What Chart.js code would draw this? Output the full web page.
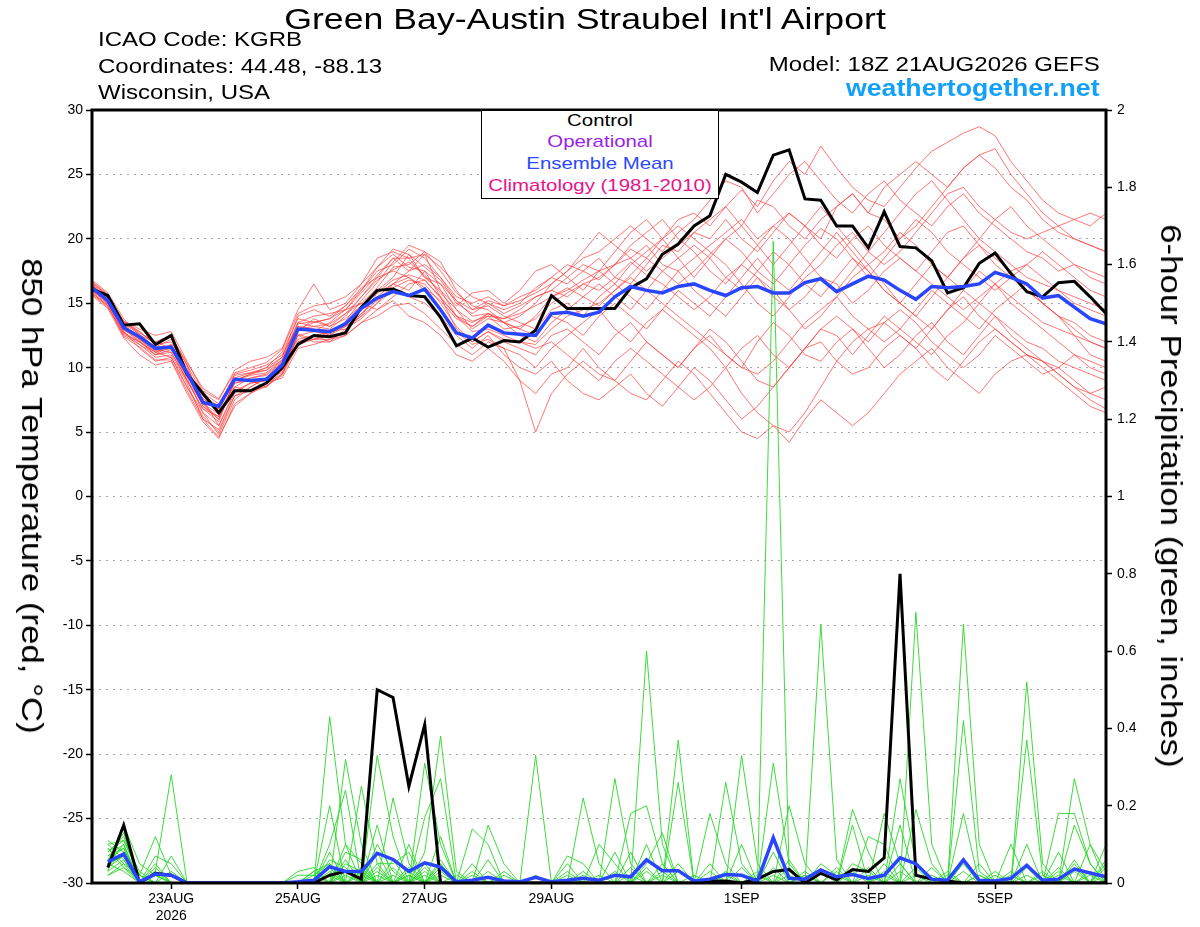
<!DOCTYPE html>
<html>
<head>
<meta charset="utf-8">
<title>Green Bay-Austin Straubel Int'l Airport - GEFS 850 hPa Temperature / 6-hour Precipitation</title>
<script src="https://cdn.jsdelivr.net/npm/chart.js@4.4.0/dist/chart.umd.min.js"></script>
<style>
  html, body { margin: 0; padding: 0; background: #fff; }
  body {
    width: 1200px; height: 927px; position: relative; overflow: hidden;
    font-family: "Liberation Sans", Arial, Helvetica, sans-serif; color: #000;
  }
  #chart { position: absolute; left: 0; top: 0; }
  .lbl { position: absolute; white-space: nowrap; line-height: 1; }
  .left { transform-origin: left center; transform: scaleX(1.2); }
  .right { transform-origin: right center; transform: scaleX(1.2); }
  .mid { transform: translateX(-50%) scaleX(1.2); }
  #legend {
    position: absolute; left: 481px; top: 110px; width: 238px; height: 89px;
    box-sizing: border-box; border: 1.5px solid #000; background: #fff;
  }
  .axis-title { font-size: 30px; transform: translate(-50%, -50%) rotate(90deg) scaleX(1.16); }
</style>
</head>
<body>
<canvas id="chart" width="1200" height="927"></canvas>

<div class="lbl mid" style="left:585px; top:4.5px; font-size:29px; transform:translateX(-50%) scaleX(1.23);">Green Bay-Austin Straubel Int'l Airport</div>
<div class="lbl left" style="left:98px; top:29px; font-size:20px;">ICAO Code: KGRB</div>
<div class="lbl left" style="left:98px; top:55.8px; font-size:20px;">Coordinates: 44.48, -88.13</div>
<div class="lbl left" style="left:98px; top:82.4px; font-size:20px;">Wisconsin, USA</div>
<div class="lbl right" style="right:100px; top:54px; font-size:20px;">Model: 18Z 21AUG2026 GEFS</div>
<div class="lbl right" style="right:100px; top:77.2px; font-size:23px; font-weight:bold; color:#12a0f8; transform:scaleX(1.16);">weathertogether.net</div>

<div id="legend"></div>
<div class="lbl mid" style="left:600px; top:111.5px; font-size:17px; color:#000;">Control</div>
<div class="lbl mid" style="left:600px; top:133.2px; font-size:17px; color:#9b1fe6;">Operational</div>
<div class="lbl mid" style="left:600px; top:155px; font-size:17px; color:#2c48ff;">Ensemble Mean</div>
<div class="lbl mid" style="left:600px; top:176.8px; font-size:17px; color:#ea128a;">Climatology (1981-2010)</div>

<div class="lbl axis-title" style="left:32px; top:496px;">850 hPa Temperature (red, °C)</div>
<div class="lbl axis-title" style="left:1171px; top:496px;">6-hour Precipitation (green, inches)</div>

<script>
// forecast hours from 18Z 21AUG2026
const forecastHours = [0,6,12,18,24,30,36,42,48,54,60,66,72,78,84,90,96,102,108,114,120,126,132,138,144,150,
  156,162,168,174,180,186,192,198,204,210,216,222,228,234,240,246,252,258,264,270,276,282,288,294,300,306,
  312,318,324,330,336,342,348,354,360,366,372,378,384];

const dayTickHours = [30, 78, 126, 174, 246, 294, 342];
const dayTickLabels = [['23AUG', '2026'], '25AUG', '27AUG', '29AUG', '1SEP', '3SEP', '5SEP'];
const tempTicks = [-30, -25, -20, -15, -10, -5, 0, 5, 10, 15, 20, 25, 30];
const precipTicks = [0, 0.2, 0.4, 0.6, 0.8, 1, 1.2, 1.4, 1.6, 1.8, 2];
const precipTickLabels = ['0', '0.2', '0.4', '0.6', '0.8', '1', '1.2', '1.4', '1.6', '1.8', '2'];

// 850 hPa temperature (C)
const ctrlTemp = [16.1,15.6,13.3,13.4,11.8,12.5,9.5,8.0,6.5,8.2,8.2,8.8,10.0,
  11.8,12.5,12.4,12.7,14.7,16.0,16.1,15.6,15.5,13.9,11.7,12.3,11.6,
  12.1,12.0,12.9,15.6,14.6,14.6,14.6,14.6,16.2,16.9,18.8,19.6,21.0,
  21.8,25.0,24.4,23.6,26.5,26.9,23.1,23.0,21.0,21.0,19.3,22.1,19.4,
  19.3,18.3,15.8,16.2,18.1,18.9,17.3,15.9,15.5,16.6,16.7,15.5,14.2];
const meanTemp = [16.2,15.2,13.1,12.4,11.5,11.6,9.6,7.3,7.0,9.1,9.0,9.1,10.2,
  13.0,12.9,12.8,13.4,14.6,15.4,15.9,15.6,16.1,14.5,12.7,12.3,13.3,
  12.7,12.6,12.5,14.2,14.3,14.0,14.3,15.5,16.3,16.0,15.8,16.3,16.5,
  16.0,15.6,16.2,16.3,15.8,15.8,16.6,16.9,15.9,16.5,17.1,16.8,16.0,
  15.3,16.3,16.2,16.3,16.5,17.4,17.0,16.5,15.4,15.6,14.7,13.8,13.4];

const tm01 = [16.5,15.0,13.0,12.0,11.0,11.8,9.5,7.0,6.2,8.5,9.2,9.5,10.5,
  13.5,13.2,13.0,14.0,15.5,17.0,18.5,17.5,18.8,16.0,14.0,13.5,14.2,
  13.5,13.0,14.0,15.5,16.0,16.8,17.5,18.0,19.2,18.5,20.0,21.5,22.0,
  21.0,22.5,23.8,22.5,24.5,26.0,25.0,27.2,25.5,24.0,23.0,22.5,24.0,
  25.5,26.8,27.5,28.2,28.7,28.0,26.0,24.5,23.0,22.0,21.5,21.0,22.0];
const tm02 = [16.0,15.5,13.5,12.8,11.8,12.0,10.0,7.5,5.5,8.0,8.8,9.0,9.8,
  12.5,12.8,13.5,14.5,15.0,14.5,15.2,14.0,13.5,12.5,11.0,10.5,11.5,
  10.5,9.0,8.0,9.5,10.0,11.5,10.0,9.0,8.0,7.5,9.0,10.5,9.5,
  8.0,6.5,5.0,4.5,5.5,4.2,6.0,7.5,6.5,5.5,6.5,8.0,9.5,
  10.5,11.5,10.0,9.0,8.0,9.5,10.5,11.0,10.5,9.5,8.5,7.5,6.8];
const tm03 = [16.8,15.8,13.8,12.5,12.0,11.5,9.0,6.8,5.8,9.0,9.5,10.0,10.8,
  14.0,14.5,14.0,14.8,16.0,17.5,18.0,19.2,18.5,17.0,15.5,15.0,15.5,
  14.8,15.5,16.0,17.0,16.5,17.5,18.5,17.0,16.5,18.0,19.5,19.0,20.5,
  20.0,21.5,20.0,19.0,20.5,22.0,21.0,20.0,22.5,23.5,22.0,21.5,20.0,
  21.0,22.5,24.0,25.5,26.5,27.0,25.0,23.5,22.0,21.0,20.0,19.5,19.0];
const tm04 = [15.8,14.8,12.5,11.8,10.8,11.0,8.8,6.0,5.2,7.8,8.2,8.5,9.5,
  12.0,12.5,12.0,13.0,14.0,15.8,16.5,16.0,17.5,15.5,13.0,12.0,12.8,
  12.0,11.5,11.0,12.5,13.0,12.0,11.0,12.5,13.5,12.0,11.0,10.0,11.5,
  12.5,11.0,10.0,12.0,13.5,12.5,11.0,10.5,12.0,13.0,11.5,10.0,11.0,
  12.5,13.5,12.0,11.0,12.5,14.0,13.0,12.0,11.5,10.5,10.0,9.5,9.0];
const tm05 = [16.2,15.2,13.2,12.2,11.2,11.8,9.8,7.8,7.0,9.5,9.8,10.2,11.0,
  13.2,13.0,12.5,13.5,14.8,16.0,17.0,18.8,17.0,16.5,14.5,13.0,13.8,
  13.5,14.0,15.0,16.5,17.5,18.5,19.0,20.0,21.0,20.0,19.0,20.5,21.5,
  23.0,24.5,24.0,22.0,23.5,25.0,26.0,24.5,23.0,22.0,23.5,24.5,23.0,
  22.0,21.0,22.5,23.5,22.0,21.0,20.0,19.0,18.5,17.5,18.0,17.0,16.5];
const tm06 = [16.4,15.3,12.8,11.5,10.5,10.8,8.5,6.5,4.8,7.5,8.5,9.2,10.0,
  12.8,13.8,13.2,14.2,15.0,16.2,17.8,18.0,19.0,18.2,16.0,14.5,14.8,
  14.0,13.5,13.0,14.5,15.0,14.0,15.5,16.5,15.5,14.5,16.0,17.5,16.0,
  15.0,14.0,15.5,17.0,16.0,14.5,13.0,14.0,15.5,17.0,18.0,16.5,15.0,
  14.0,15.5,17.0,18.5,19.5,18.0,17.0,16.0,15.0,14.0,13.5,12.5,12.0];
const tm07 = [15.6,14.6,12.3,11.0,10.2,10.5,8.0,5.8,4.5,7.2,8.0,8.8,9.2,
  11.5,11.8,12.2,12.5,13.5,14.0,14.8,15.0,14.2,13.0,11.8,11.0,12.0,
  11.5,9.0,5.0,8.0,9.5,10.5,9.5,9.0,10.5,12.0,11.0,10.0,11.5,
  13.0,12.0,10.5,9.0,8.5,10.0,11.5,13.0,12.5,11.0,12.5,14.0,13.0,
  12.0,11.0,12.5,13.5,15.0,14.0,12.5,11.5,10.5,10.0,9.0,8.0,7.5];
const tm08 = [16.6,15.6,13.6,13.0,12.5,12.8,10.5,8.2,7.5,9.8,10.5,10.8,11.5,
  14.5,16.5,14.5,15.0,16.5,18.5,19.0,18.5,17.0,16.0,14.8,15.8,16.0,
  15.0,16.0,17.5,18.0,17.0,16.0,17.5,19.0,20.5,21.5,20.0,18.5,17.0,
  18.5,20.0,21.0,19.5,18.0,19.5,21.0,22.5,21.0,19.5,18.0,19.0,20.5,
  19.5,18.0,17.0,18.5,20.0,21.5,22.5,21.0,20.0,19.0,18.0,17.5,17.0];
const tm09 = [16.0,15.0,12.6,12.0,11.2,11.5,9.2,6.5,5.5,8.2,8.8,9.0,10.2,
  12.2,12.5,12.8,13.0,13.8,15.0,16.0,15.5,15.0,14.0,12.5,11.5,12.5,
  11.0,10.0,9.5,10.5,9.0,8.0,7.5,8.5,9.5,8.0,7.0,8.5,10.0,
  9.0,7.5,6.0,7.0,8.5,10.0,11.5,12.0,10.5,9.5,10.0,11.5,12.5,
  11.5,10.0,9.0,10.5,12.0,13.0,12.0,11.0,10.5,9.5,8.5,8.0,8.5];
const tm10 = [16.3,15.4,13.4,12.6,11.6,12.2,10.2,8.0,7.2,9.2,9.6,10.0,11.2,
  13.8,13.5,13.8,14.5,16.0,17.8,19.2,18.8,17.8,16.8,15.0,14.2,15.0,
  14.5,15.0,16.2,17.0,18.0,17.5,16.8,18.0,19.5,20.5,21.5,20.0,19.0,
  17.5,16.5,18.0,19.5,21.0,20.0,18.5,17.0,16.0,17.5,19.0,20.5,22.0,
  23.5,24.5,23.0,21.5,20.0,19.0,18.0,17.0,16.5,16.0,15.5,15.0,14.5];
const tm11 = [15.9,14.9,12.9,12.3,11.4,11.2,9.0,7.2,6.0,8.8,9.0,8.5,9.8,
  12.6,12.2,12.8,13.2,14.2,15.2,16.2,16.8,16.5,15.0,13.2,12.0,12.8,
  12.2,12.0,11.8,13.0,14.0,14.5,15.0,16.0,17.0,16.0,15.0,14.0,13.0,
  12.0,11.0,10.0,9.5,10.5,12.0,13.5,14.5,15.5,14.0,13.0,12.0,13.0,
  14.5,16.0,15.0,14.0,13.0,14.5,15.5,16.5,15.0,14.0,12.5,11.0,10.5];
const tm12 = [16.1,15.1,13.0,12.1,11.0,11.4,9.4,7.4,6.8,9.0,9.4,9.6,10.6,
  13.0,13.5,13.8,14.8,16.2,17.0,17.5,17.0,16.2,15.2,13.8,13.2,14.0,
  13.8,14.5,15.5,16.0,15.5,16.5,17.0,18.0,18.5,19.5,18.0,17.5,18.5,
  19.5,20.5,21.5,20.0,21.0,22.0,21.0,19.5,18.5,20.0,21.0,19.5,18.5,
  17.5,19.0,20.5,21.0,19.5,18.5,17.5,18.0,19.0,18.0,17.0,16.0,15.5];
const tm13 = [16.7,15.7,13.3,12.4,11.6,11.6,9.6,7.6,6.6,9.2,9.0,9.2,10.4,
  13.2,12.8,12.6,13.6,15.2,16.6,18.2,19.5,19.0,17.5,15.8,14.8,14.5,
  13.5,13.0,12.5,14.0,13.5,12.5,14.0,15.0,14.0,13.0,14.5,16.0,15.0,
  14.0,15.5,17.0,18.5,17.0,16.0,17.5,19.0,20.5,19.0,17.5,16.0,15.0,
  16.5,18.0,17.0,16.0,15.0,16.5,17.5,16.0,15.0,14.0,13.0,12.0,11.5];
const tm14 = [15.7,14.7,12.7,12.0,11.2,10.8,8.5,6.2,5.0,7.8,8.5,9.2,9.6,
  12.0,12.2,12.5,13.2,14.0,15.0,16.5,17.5,18.0,17.0,15.2,14.0,14.2,
  13.5,12.5,12.0,13.5,14.5,15.5,16.5,15.5,14.5,16.0,17.5,18.5,19.5,
  18.5,17.0,16.0,17.5,19.0,18.0,16.5,15.5,17.0,18.5,17.5,16.0,15.0,
  14.0,13.0,14.5,15.5,14.0,13.0,12.0,11.0,10.0,9.0,8.0,7.0,6.5];
const tm15 = [16.5,15.5,13.5,12.7,12.0,12.5,10.2,7.0,6.0,9.0,9.5,9.8,10.8,
  13.5,14.0,14.2,14.5,15.8,17.2,18.5,18.5,18.8,17.8,16.5,15.5,15.0,
  14.2,14.8,15.5,16.0,17.0,18.0,17.5,16.5,18.0,19.0,20.0,21.0,20.0,
  19.0,18.0,16.5,15.0,14.0,15.5,17.0,18.0,19.5,20.5,19.0,18.0,19.0,
  20.5,22.0,23.5,24.0,22.5,21.5,20.5,20.0,20.5,21.0,21.5,22.0,21.5];
const tm16 = [16.0,15.0,12.8,11.8,11.0,11.2,9.0,6.8,6.2,8.5,8.2,8.8,9.5,
  12.5,12.0,12.0,12.5,13.5,14.5,15.5,16.5,16.8,15.5,14.0,12.8,13.0,
  12.5,12.0,11.5,12.0,11.0,10.0,9.0,10.5,11.5,10.5,9.5,8.5,7.5,
  8.5,10.0,11.5,12.5,11.0,10.0,11.5,13.0,14.0,13.0,12.0,13.5,14.5,
  13.5,12.0,11.0,10.0,11.0,12.5,11.5,10.5,9.5,10.0,11.0,10.5,10.0];
const tm17 = [16.2,15.2,13.2,12.4,11.5,11.5,9.6,7.2,6.4,8.8,9.2,9.4,10.4,
  13.0,13.2,13.4,14.2,15.5,16.8,17.6,18.2,17.2,15.8,14.5,13.6,14.0,
  13.0,13.2,13.8,15.0,15.8,16.5,16.0,17.0,18.2,17.2,16.5,15.5,14.5,
  15.5,17.0,18.0,17.0,15.5,14.5,15.5,17.0,16.5,15.0,16.0,17.5,18.5,
  17.5,16.5,15.5,14.5,15.5,16.5,15.5,14.5,13.5,13.0,12.5,12.0,11.5];
const tm18 = [16.4,15.4,13.1,12.2,11.3,11.7,9.3,7.6,6.8,9.4,9.6,9.8,10.6,
  13.4,13.6,13.2,13.8,14.8,15.8,16.8,17.2,16.8,15.4,14.0,13.2,14.2,
  13.8,14.2,14.8,15.5,16.2,15.5,14.8,16.0,17.2,18.5,17.5,16.5,17.5,
  18.8,20.0,19.0,17.5,16.5,18.0,19.5,20.8,20.0,18.5,17.0,18.5,20.0,
  21.5,20.5,19.0,18.0,17.0,16.0,17.0,18.0,17.0,16.0,15.0,14.5,14.0];
const tm19 = [15.8,14.8,12.4,11.6,10.6,10.6,8.2,6.0,4.6,7.0,8.0,8.6,9.4,
  11.8,12.2,12.2,12.8,14.2,15.5,16.5,17.0,16.0,14.5,12.8,11.8,12.2,
  11.5,11.0,10.0,11.5,12.5,13.5,14.5,13.0,12.0,13.5,14.5,13.5,12.5,
  11.5,10.0,8.0,6.5,5.5,5.0,6.5,8.5,10.5,12.0,13.0,13.5,12.5,
  11.5,13.0,14.5,16.0,17.5,16.5,15.0,14.0,13.0,12.0,11.0,10.0,9.5];
const tm20 = [16.6,15.6,13.6,12.8,11.8,12.4,10.4,8.4,7.6,9.6,10.0,10.4,11.4,
  14.2,14.8,15.0,15.5,16.5,17.8,18.8,17.8,17.5,16.5,15.2,14.5,15.2,
  14.8,15.2,15.8,16.5,17.5,19.0,20.5,19.5,18.5,17.5,18.5,19.5,20.5,
  21.5,22.5,21.0,23.0,22.5,21.0,20.0,21.5,22.5,23.5,22.0,24.0,25.0,
  26.0,25.0,24.0,25.5,26.5,25.5,24.0,23.0,21.5,20.5,20.0,19.5,19.0];

// 6-hour precipitation (inches), no value at hour 0
const ctrlPrecip = [null,
  .04,.15,0,.025,.02,0,0,0,0,0,0,0,0,0,.02,.03,
  .01,.5,.48,.25,.41,0,0,0,0,0,0,0,0,0,0,0,
  0,0,0,0,0,0,.005,.005,0,.01,.03,.035,0,.025,.008,.035,
  .03,.065,.8,.02,.01,.005,0,0,0,0,0,0,0,0,0,0];
const meanPrecip = [null,
  .055,.075,.003,.023,.02,0,0,0,0,0,0,0,.003,.007,.042,.03,
  .03,.077,.061,.03,.052,.041,.003,.007,.015,.005,.003,.015,.003,.007,.012,.007,
  .02,.016,.06,.032,.032,.005,.01,.022,.02,.005,.117,.012,.01,.034,.016,.022,
  .012,.02,.065,.05,.01,.007,.06,.007,.005,.012,.046,.007,.01,.036,.026,.016];

const pm01 = [null,
  .08,.12,.02,.12,.02,0,0,0,0,0,0,0,0,0,.43,.1,
  0,0,0,0,0,.05,0,0,0,0,0,.33,0,0,0,0,
  0,0,.6,.1,0,0,0,0,0,0,1.66,.03,0,0,0,0,
  0,0,0,.7,.1,0,0,0,0,0,.1,0,0,.05,0,0];
const pm02 = [null,
  .05,.1,0,.03,.28,0,0,0,0,0,0,0,0,0,0,.32,
  .1,0,0,0,.08,.38,.03,0,0,0,0,0,0,0,0,0,
  .27,.05,0,0,0,0,0,0,0,0,0,0,0,.67,.06,0,
  0,0,0,0,0,0,.18,0,0,0,0,0,0,.27,.1,0];
const pm03 = [null,
  .1,.06,0,.07,.05,0,0,0,0,0,0,0,0,0,.2,0,
  0,.33,.12,0,0,0,0,0,.15,.05,0,0,0,0,0,0,
  0,0,0,0,.37,0,0,0,.1,0,0,0,0,0,0,.19,
  .08,0,0,0,0,0,.67,.1,0,0,0,0,0,0,0,.1];
const pm04 = [null,
  .03,.15,.05,.02,0,0,0,0,0,0,0,0,0,0,0,0,
  .25,.05,0,0,.31,.1,0,0,0,0,0,0,0,0,.22,.05,
  0,0,0,0,0,0,0,.26,.05,0,0,0,0,0,0,0,
  0,0,.27,.05,0,0,0,0,0,0,.52,.05,0,0,0,0];
const pm05 = [null,
  .11,.08,0,.04,0,0,0,0,0,0,0,0,0,0,.1,.24,
  0,0,.22,.05,0,0,0,.14,.1,0,0,0,0,0,0,0,
  0,.18,.2,.05,0,0,0,0,0,0,.31,.05,0,0,0,0,
  0,.18,.05,0,0,0,0,0,0,0,0,0,.18,.18,.05,0];
const pm06 = [null,
  .02,.04,0,0,.07,0,0,0,0,0,0,0,0,.03,.05,0,
  0,.15,0,0,.17,.27,0,0,0,0,0,0,0,.07,.05,0,
  0,0,.1,0,.26,0,.05,0,0,0,0,0,0,0,0,0,
  0,0,0,.19,.05,0,.42,.03,0,0,0,0,0,0,0,.05];
const pm07 = [null,
  .06,.09,0,.02,0,0,0,0,0,0,0,0,.03,.04,0,.1,
  .05,0,0,.1,0,0,0,0,.06,0,0,0,0,0,0,.1,
  .05,0,0,0,0,0,.18,.05,0,0,0,.2,.05,0,0,0,
  .12,.1,0,0,0,0,0,0,0,0,.37,.02,0,0,0,0];
const pm08 = [null,
  .04,.07,0,0,0,0,0,0,0,0,0,0,.02,.02,.05,0,
  0,.05,.05,.08,0,0,0,.05,0,0,0,0,0,.05,0,0,
  0,0,.05,.13,0,0,0,0,.33,.05,0,0,0,0,0,.15,
  0,0,.15,0,0,0,0,0,0,.1,0,0,0,.15,.05,0];
const pm09 = [null,
  .09,.05,.02,0,0,0,0,0,0,0,0,0,0,0,0,.05,
  .03,0,0,0,0,.12,0,0,0,.02,0,0,0,0,0,0,
  0,.08,0,.05,0,0,0,0,0,0,.08,0,0,.05,.02,0,
  0,.05,0,0,0,.03,0,0,.02,0,0,0,.08,0,0,0];
const pm10 = [null,
  .07,.1,0,.05,0,0,0,0,0,0,0,0,0,0,.08,0,
  0,.1,.03,0,.05,0,0,0,0,0,0,0,0,.02,0,0,
  0,0,0,0,.05,0,0,.03,0,0,0,0,.02,0,0,.05,
  .03,0,0,0,.04,0,0,.02,0,0,0,.03,0,0,.1,.03];
const pm11 = [null,
  .05,.03,0,0,0,0,0,0,0,0,0,0,0,0,0,.08,
  .06,0,0,.04,0,.06,0,0,0,0,0,0,0,0,.03,0,
  .08,0,0,0,0,0,0,0,0,.03,0,.06,0,0,.04,0,
  0,0,.05,0,0,0,.03,0,0,.03,0,0,0,.06,0,0];
const pm12 = [null,
  .1,.11,.03,0,.03,0,0,0,0,0,0,0,0,0,.03,0,
  0,.08,0,0,.03,0,0,.02,0,0,0,0,0,0,0,0,
  0,0,.03,0,0,.02,0,0,0,0,.04,0,0,0,0,0,
  .04,0,0,.04,0,0,0,0,0,0,.04,0,0,0,0,.06];
const pm13 = [null,
  .03,.06,0,0,0,0,0,0,0,0,0,0,0,.02,0,0,
  .04,0,.06,0,0,.04,0,0,0,0,0,.02,0,0,0,0,
  0,.04,0,0,0,0,0,0,.04,0,0,0,.03,0,0,0,
  0,.03,0,0,0,0,0,.05,0,0,0,0,.04,0,.03,0];
const pm14 = [null,
  .06,.13,0,.03,0,0,0,0,0,0,0,0,0,0,.06,.04,
  0,0,0,.03,0,0,.02,0,0,0,0,0,0,0,0,0,
  0,0,0,.03,0,0,.03,0,0,0,0,.04,0,0,0,.03,
  0,0,0,0,0,.02,0,0,0,0,0,.02,0,.04,0,0];
const pm15 = [null,
  .04,.08,0,0,0,0,0,0,0,0,0,0,0,0,0,.03,
  0,.04,0,0,.04,0,0,0,.03,0,0,0,0,0,0,0,
  .03,0,0,0,.03,0,0,0,0,0,0,0,0,.03,0,0,
  0,0,.03,0,0,0,0,0,.03,0,0,0,0,0,0,.04];
const pm16 = [null,
  .09,.04,.01,0,0,0,0,0,0,0,0,0,0,0,.04,0,
  .02,0,.04,0,0,.03,0,0,0,0,0,0,0,0,0,.02,
  0,0,.04,0,0,0,0,0,0,0,.02,0,0,0,0,0,
  .02,0,0,0,0,0,.05,0,0,0,0,0,.03,0,0,0];
const pm17 = [null,
  .02,.05,0,0,0,0,0,0,0,0,0,0,0,.03,0,.06,
  0,.03,0,.02,0,0,0,0,0,0,0,0,0,.03,0,0,
  0,0,0,0,0,0,0,.02,0,0,0,0,0,0,.03,0,
  0,0,0,.02,0,0,0,0,0,.02,0,0,0,0,.02,0];
const pm18 = [null,
  .07,.09,0,.02,0,0,0,0,0,0,0,0,0,0,.02,0,
  .03,0,0,0,.02,0,0,0,0,.03,0,0,0,0,0,0,
  0,0,0,.02,0,0,0,0,0,.02,0,0,0,0,0,0,
  0,.02,0,0,0,0,0,0,0,0,.02,0,0,0,0,.02];
const pm19 = [null,
  .05,.07,0,0,0,0,0,0,0,0,0,0,0,0,0,.02,
  0,0,.02,0,0,.02,0,0,0,0,0,0,0,0,0,0,
  0,.02,0,0,0,0,0,0,0,0,0,.02,0,0,0,0,
  0,0,0,0,.02,0,0,0,0,0,0,0,0,.03,0,0];
const pm20 = [null,
  .08,.11,.02,0,0,0,0,0,0,0,0,0,0,0,0,0,
  0,.02,0,.02,0,0,0,.03,0,0,0,0,0,0,.02,0,
  0,0,0,0,0,0,0,0,0,0,0,0,.02,0,0,0,
  0,0,0,0,0,0,0,.02,0,0,0,0,.02,0,0,0];

const tempMembers = [tm01, tm02, tm03, tm04, tm05, tm06, tm07, tm08, tm09, tm10,
  tm11, tm12, tm13, tm14, tm15, tm16, tm17, tm18, tm19, tm20];
const precipMembers = [pm01, pm02, pm03, pm04, pm05, pm06, pm07, pm08, pm09, pm10,
  pm11, pm12, pm13, pm14, pm15, pm16, pm17, pm18, pm19, pm20];

const FONT = { family: "'Liberation Sans', Arial, sans-serif", size: 14 };

const datasets = [];
tempMembers.forEach((vals, k) => {
  datasets.push({ label: 'T ens ' + (k + 1), data: vals, yAxisID: 'y',
    borderColor: 'rgba(255, 60, 60, 0.7)', borderWidth: 1, order: 3 });
});
precipMembers.forEach((vals, k) => {
  datasets.push({ label: 'P ens ' + (k + 1), data: vals, yAxisID: 'y2',
    borderColor: 'rgba(40, 215, 40, 0.9)', borderWidth: 1, order: 2 });
});
datasets.push({ label: 'Control T', data: ctrlTemp, yAxisID: 'y', borderColor: '#000', borderWidth: 3, order: 1 });
datasets.push({ label: 'Control P', data: ctrlPrecip, yAxisID: 'y2', borderColor: '#000', borderWidth: 3, order: 1 });
datasets.push({ label: 'Mean T', data: meanTemp, yAxisID: 'y', borderColor: '#2a45ff', borderWidth: 3.5, order: 0 });
datasets.push({ label: 'Mean P', data: meanPrecip, yAxisID: 'y2', borderColor: '#2a45ff', borderWidth: 3.5, order: 0 });

// thick box round the plot area
const framePlugin = {
  id: 'frame',
  afterDraw(chart) {
    const { ctx, chartArea: a } = chart;
    ctx.save();
    ctx.lineWidth = 3;
    ctx.strokeStyle = '#000';
    ctx.strokeRect(a.left, a.top, a.right - a.left, a.bottom - a.top);
    ctx.restore();
  }
};

new Chart(document.getElementById('chart'), {
  type: 'line',
  data: { labels: forecastHours, datasets: datasets },
  plugins: [framePlugin],
  options: {
    responsive: false,
    animation: false,
    devicePixelRatio: 1,
    layout: { padding: { top: 110, left: 0, right: 0, bottom: 0 } },
    elements: { point: { radius: 0 }, line: { tension: 0, fill: false } },
    plugins: { legend: { display: false }, tooltip: { enabled: false }, title: { display: false } },
    scales: {
      x: {
        type: 'linear', min: 0, max: 384,
        afterBuildTicks: (s) => { s.ticks = dayTickHours.map(v => ({ value: v })); },
        afterFit: (s) => { s.height = 44; },
        grid: { display: true, drawOnChartArea: false, drawTicks: true, tickLength: 6, tickColor: '#000', tickWidth: 1.5 },
        border: { display: false },
        ticks: { autoSkip: false, maxRotation: 0, padding: 2, color: '#000', font: FONT,
          callback: (v, i) => dayTickLabels[i] }
      },
      y: {
        position: 'left', min: -30, max: 30,
        afterBuildTicks: (s) => { s.ticks = tempTicks.map(v => ({ value: v })); },
        afterFit: (s) => { s.width = 92; },
        grid: { color: '#a8a8a8', lineWidth: 1, drawTicks: true, tickLength: 6, tickColor: '#000', tickWidth: 1.5 },
        border: { display: false, dash: [2, 5] },
        ticks: { padding: 3, color: '#000', font: FONT, callback: (v, i) => String(tempTicks[i]) }
      },
      y2: {
        position: 'right', min: 0, max: 2,
        afterBuildTicks: (s) => { s.ticks = precipTicks.map(v => ({ value: v })); },
        afterFit: (s) => { s.width = 94; },
        grid: { drawOnChartArea: false, drawTicks: true, tickLength: 6, tickColor: '#000', tickWidth: 1.5 },
        border: { display: false },
        ticks: { padding: 5, color: '#000', font: FONT, callback: (v, i) => precipTickLabels[i] }
      }
    }
  }
});
</script>
</body>
</html>
